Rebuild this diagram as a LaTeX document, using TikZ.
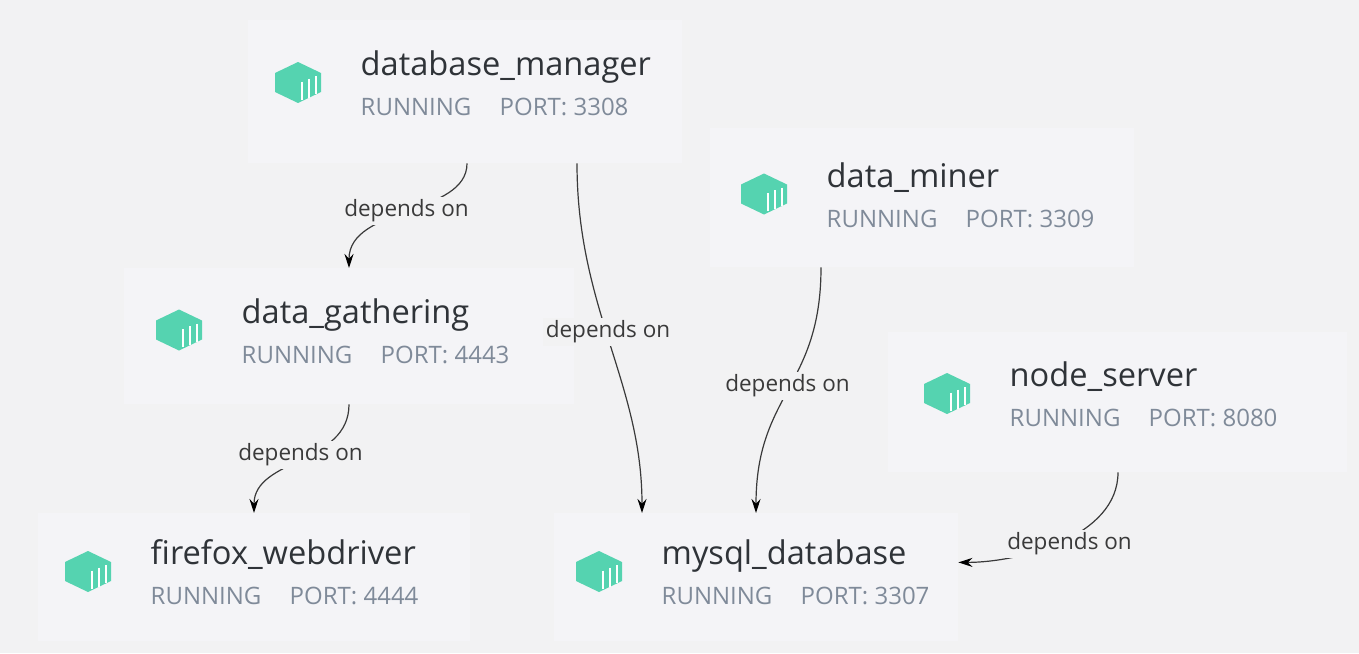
\documentclass[tikz,border=0pt]{standalone}
\usepackage{fontspec}
\setmainfont{Open Sans}
\usetikzlibrary{arrows.meta,calc}
\definecolor{bgc}{HTML}{F2F2F3}
\definecolor{boxc}{HTML}{F4F4F7}
\definecolor{teal}{HTML}{55D3B0}
\definecolor{titlec}{HTML}{2F3338}
\definecolor{subc}{HTML}{7F8A99}
\definecolor{edgec}{HTML}{3A3A3A}
\tikzset{
  svcbox/.style={fill=boxc,draw=none,anchor=north west,inner sep=0pt},
  svctitle/.style={anchor=base west,inner sep=0pt,text=titlec,font=\fontsize{32.6}{36}\selectfont},
  svcsub/.style={anchor=base west,inner sep=0pt,text=subc,font=\fontsize{24}{28}\selectfont},
  deplabel/.style={fill=bgc,inner sep=2.5pt,text=edgec,font=\fontsize{22.5}{26}\selectfont},
  depedge/.style={draw=edgec,line width=1.2pt,-{Stealth[length=14pt,width=9pt,color=black]}},
  containericon/.pic={
    \fill[teal] (0,-20.5) -- (-23,-9.5) -- (-23,9.5) -- (0,20.5) -- (23,9.5) -- (23,-9.5) -- cycle;
    \draw[white,line width=2pt] (4,-1) -- (4,17);
    \draw[white,line width=2pt] (11,-4) -- (11,15);
    \draw[white,line width=2pt] (18,-6.5) -- (18,11.5);
  }
}
\newcommand{\svc}[9]{% name, x, y, w, h, iconx, icony, title, port
  \node[svcbox,minimum width=#4pt,minimum height=#5pt] (#1) at (#2,#3) {};
  \pic at (#6,#7) {containericon};
  \node[svctitle] (#1-title) at (#6+62.5,#7-7) {#8};
  \node[svcsub] (#1-state) at (#6+62.5,#7+33) {RUNNING};
  \node[svcsub] (#1-port) at (#6+201.5,#7+33) {PORT: #9};
}
\begin{document}
\begin{tikzpicture}[x=1pt,y=-1pt]
\useasboundingbox[fill=bgc] (0,0) rectangle (1359,653);
\svc{dbm}{248}{20}{434}{143}{298}{82.5}{database\_manager}{3308}
\svc{miner}{710}{128}{424}{139}{764}{194}{data\_miner}{3309}
\svc{gather}{124}{268}{450}{136}{179}{330}{data\_gathering}{4443}
\svc{nodesrv}{888}{332}{459}{140}{947}{393.5}{node\_server}{8080}
\svc{firefox}{38}{513}{432}{128}{88}{571.5}{firefox\_webdriver}{4444}
\svc{mysql}{554}{513}{404}{128}{599}{571.5}{mysql\_database}{3307}

\draw[depedge] ($(dbm.south west)+(219,0)$) .. controls +(0,52) and +(0,-62) .. ($(gather.north west)+(225,0)$);
\draw[depedge] ($(dbm.south west)+(329,0)$) .. controls +(0,145) and +(0,-130) .. ($(mysql.north west)+(88,0)$);
\draw[depedge] ($(miner.south west)+(111,0)$) .. controls +(0,120) and +(0,-120) .. ($(mysql.north west)+(202,0)$);
\draw[depedge] ($(gather.south west)+(225,0)$) .. controls +(0,60) and +(0,-55) .. ($(firefox.north west)+(216,0)$);
\draw[depedge] ($(nodesrv.south west)+(230,0)$) .. controls +(0,65) and +(60,0) .. ($(mysql.south east)+(0,-79)$);

\node[deplabel] (l1) at (406.5,211) {depends on};
\node[deplabel] (l2) at (608,332) {depends on};
\node[deplabel] (l3) at (787.5,386) {depends on};
\node[deplabel] (l4) at (300.5,455) {depends on};
\node[deplabel] (l5) at (1069.5,544) {depends on};
\end{tikzpicture}
\end{document}
